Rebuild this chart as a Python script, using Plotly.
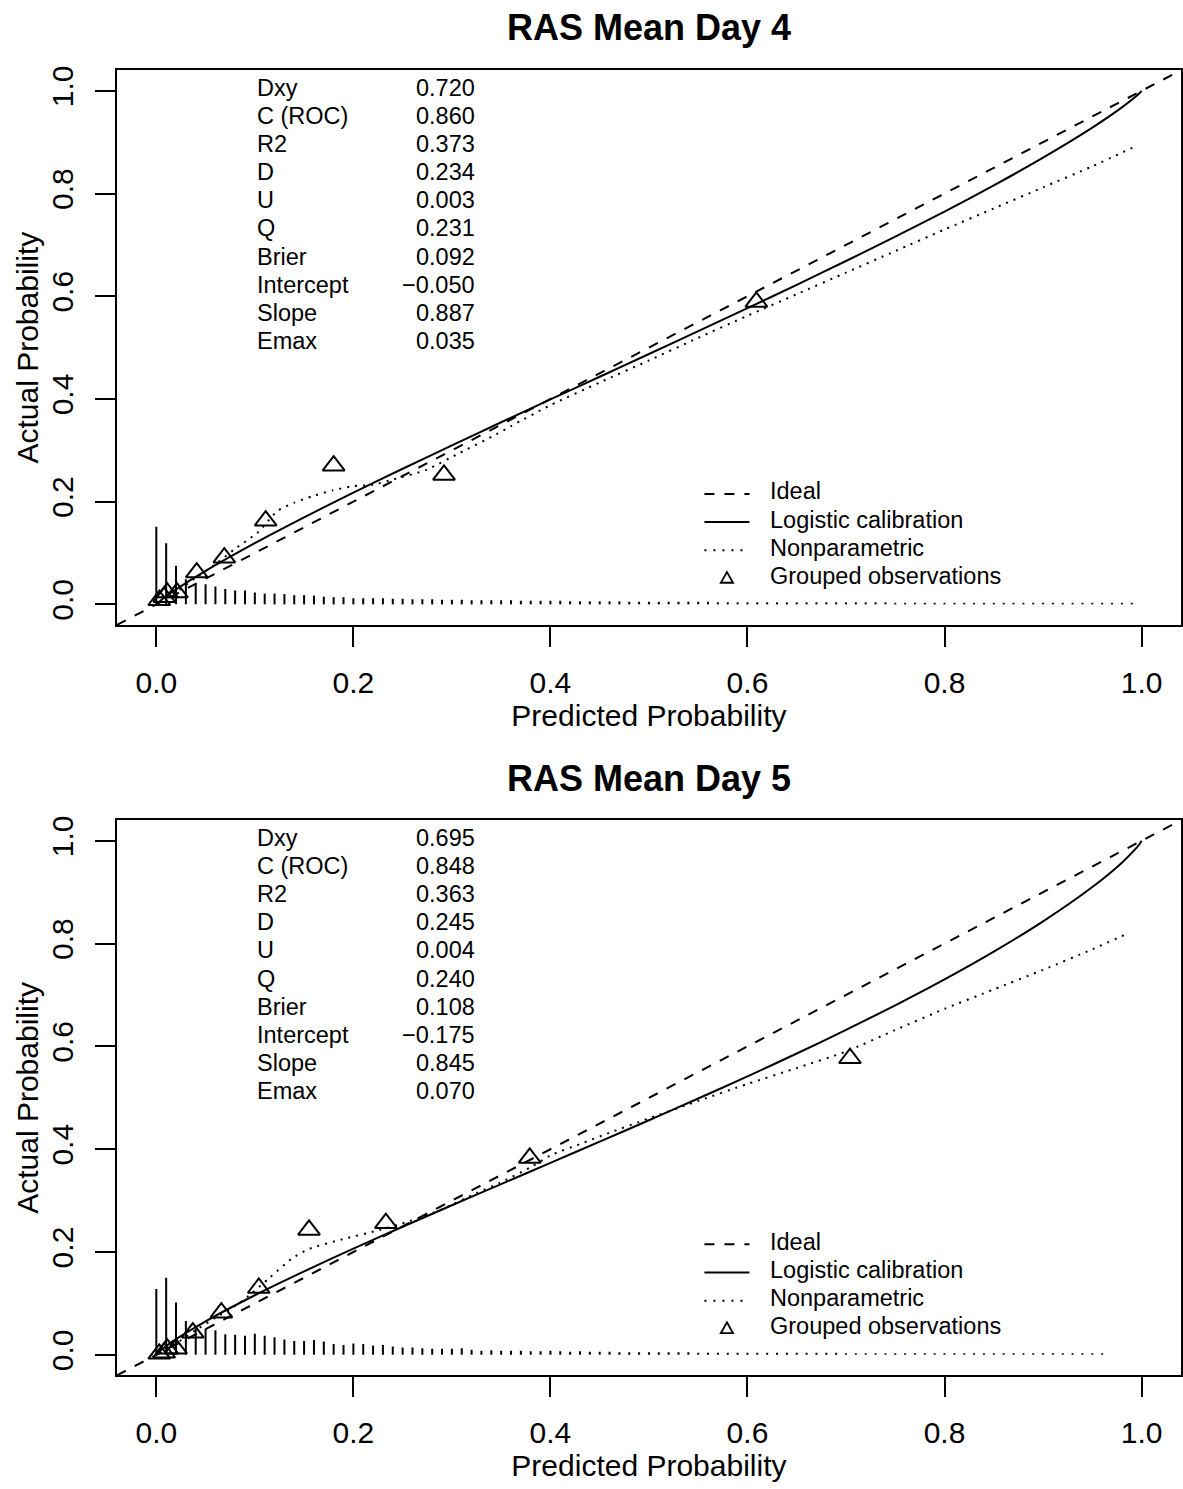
import plotly.graph_objects as go

FONT = "Liberation Sans, Arial, Helvetica, sans-serif"

# ---------------- data ----------------
titles = ["RAS Mean Day 4", "RAS Mean Day 5"]
x_title = "Predicted Probability"
y_title = "Actual Probability"

stat_labels = ["Dxy", "C (ROC)", "R2", "D", "U", "Q", "Brier", "Intercept", "Slope", "Emax"]
stat_values_d4 = ["0.720", "0.860", "0.373", "0.234", "0.003", "0.231", "0.092", "\u22120.050", "0.887", "0.035"]
stat_values_d5 = ["0.695", "0.848", "0.363", "0.245", "0.004", "0.240", "0.108", "\u22120.175", "0.845", "0.070"]

legend_labels = ["Ideal", "Logistic calibration", "Nonparametric", "Grouped observations"]

ideal_xy = [-0.04, 1.04]

# logistic calibration curves
logit_x_d4 = [0.002, 0.005, 0.01, 0.02, 0.05, 0.1, 0.15, 0.2, 0.25, 0.3, 0.35, 0.4, 0.45, 0.5,
              0.55, 0.6, 0.65, 0.7, 0.75, 0.8, 0.85, 0.9, 0.95, 0.98, 0.995, 0.998, 1.0]
logit_y_d4 = [0.0038, 0.0086, 0.0159, 0.0293, 0.0653, 0.1193, 0.1695, 0.2178, 0.2641, 0.3096,
              0.3546, 0.3990, 0.4432, 0.4875, 0.5320, 0.5769, 0.6222, 0.6686, 0.7160, 0.7648,
              0.8159, 0.8698, 0.9283, 0.9677, 0.9905, 0.9958, 1.0]
logit_x_d5 = logit_x_d4
logit_y_d5 = [0.0044, 0.0095, 0.0170, 0.0304, 0.0652, 0.1159, 0.1623, 0.2066, 0.2491, 0.2910,
              0.3322, 0.3735, 0.4147, 0.4564, 0.4987, 0.5417, 0.5862, 0.6320, 0.6799, 0.7303,
              0.7843, 0.8432, 0.9100, 0.9575, 0.9866, 0.9938, 1.0]

# nonparametric (loess) curves
np_x_d4 = [0.003, 0.01, 0.02, 0.04, 0.06, 0.079, 0.103, 0.123, 0.140, 0.159, 0.179, 0.199, 0.220,
           0.240, 0.274, 0.308, 0.341, 0.36, 0.40, 0.45, 0.50, 0.55, 0.60, 0.65, 0.70, 0.75,
           0.80, 0.85, 0.90, 0.95, 0.995]
np_y_d4 = [0.004, 0.013, 0.024, 0.052, 0.078, 0.107, 0.140, 0.182, 0.198, 0.211, 0.222, 0.230, 0.233,
           0.243, 0.262, 0.295, 0.327, 0.347, 0.388, 0.432, 0.475, 0.519, 0.562, 0.604, 0.646, 0.688,
           0.730, 0.771, 0.812, 0.853, 0.893]
np_x_d5 = [0.003, 0.01, 0.02, 0.04, 0.06, 0.08, 0.094, 0.115, 0.138, 0.155, 0.189, 0.223, 0.257,
           0.290, 0.325, 0.348, 0.38, 0.40, 0.43, 0.46, 0.50, 0.55, 0.60, 0.65, 0.70, 0.75, 0.80,
           0.85, 0.90, 0.95, 0.985]
np_y_d5 = [0.003, 0.012, 0.022, 0.048, 0.072, 0.095, 0.115, 0.150, 0.188, 0.206, 0.225, 0.241, 0.260,
           0.283, 0.315, 0.334, 0.365, 0.388, 0.410, 0.432, 0.460, 0.494, 0.527, 0.558, 0.590, 0.632,
           0.673, 0.711, 0.749, 0.789, 0.819]

# grouped observations
grp_x_d4 = [0.003, 0.008, 0.011, 0.021, 0.041, 0.069, 0.111, 0.180, 0.292, 0.609]
grp_y_d4 = [0.008, 0.014, 0.023, 0.023, 0.062, 0.091, 0.163, 0.270, 0.252, 0.589]
grp_x_d5 = [0.003, 0.008, 0.011, 0.020, 0.037, 0.066, 0.104, 0.155, 0.233, 0.379, 0.704]
grp_y_d5 = [0.002, 0.004, 0.012, 0.012, 0.043, 0.082, 0.130, 0.243, 0.256, 0.383, 0.577]

# spike histogram of predicted probabilities (bin positions and heights)
rug_x = [0.00, 0.01, 0.02, 0.03, 0.04, 0.05, 0.06, 0.07, 0.08, 0.09,
         0.10, 0.11, 0.12, 0.13, 0.14, 0.15, 0.16, 0.17, 0.18, 0.19,
         0.20, 0.21, 0.22, 0.23, 0.24, 0.25, 0.26, 0.27, 0.28, 0.29,
         0.30, 0.31, 0.32, 0.33, 0.34, 0.35, 0.36, 0.37, 0.38, 0.39,
         0.40, 0.41, 0.42, 0.43, 0.44, 0.45, 0.46, 0.47, 0.48, 0.49,
         0.50, 0.51, 0.52, 0.53, 0.54, 0.55, 0.56, 0.57, 0.58, 0.59,
         0.60, 0.61, 0.62, 0.63, 0.64, 0.65, 0.66, 0.67, 0.68, 0.69,
         0.70, 0.71, 0.72, 0.73, 0.74, 0.75, 0.76, 0.77, 0.78, 0.79,
         0.80, 0.81, 0.82, 0.83, 0.84, 0.85, 0.86, 0.87, 0.88, 0.89,
         0.90, 0.91, 0.92, 0.93, 0.94, 0.95, 0.96, 0.97, 0.98, 0.99]
rug_h_d4 = [0.151, 0.119, 0.075, 0.049, 0.039, 0.039, 0.035, 0.030, 0.027, 0.027,
            0.023, 0.021, 0.021, 0.020, 0.018, 0.018, 0.017, 0.015, 0.014, 0.014,
            0.012, 0.012, 0.012, 0.012, 0.011, 0.011, 0.010, 0.010, 0.010, 0.009,
            0.009, 0.009, 0.008, 0.008, 0.008, 0.008, 0.008, 0.007, 0.007, 0.007,
            0.007, 0.007, 0.006, 0.006, 0.006, 0.006, 0.006, 0.006, 0.005, 0.005,
            0.005, 0.005, 0.005, 0.005, 0.005, 0.005, 0.005, 0.004, 0.004, 0.004,
            0.004, 0.004, 0.004, 0.004, 0.004, 0.004, 0.004, 0.004, 0.004, 0.004,
            0.004, 0.004, 0.004, 0.004, 0.004, 0.003, 0.003, 0.003, 0.003, 0.003,
            0.003, 0.003, 0.003, 0.003, 0.003, 0.003, 0.003, 0.003, 0.003, 0.003,
            0.003, 0.003, 0.003, 0.003, 0.003, 0.003, 0.003, 0.003, 0.003, 0.003]
rug_h_d5 = [0.128, 0.150, 0.102, 0.066, 0.050, 0.050, 0.048, 0.040, 0.039, 0.037,
            0.041, 0.037, 0.034, 0.030, 0.027, 0.027, 0.029, 0.026, 0.021, 0.019,
            0.022, 0.021, 0.018, 0.019, 0.016, 0.014, 0.014, 0.013, 0.012, 0.012,
            0.012, 0.013, 0.010, 0.008, 0.009, 0.008, 0.008, 0.008, 0.007, 0.007,
            0.008, 0.007, 0.006, 0.007, 0.006, 0.006, 0.006, 0.005, 0.005, 0.005,
            0.005, 0.005, 0.005, 0.005, 0.005, 0.004, 0.004, 0.004, 0.004, 0.004,
            0.004, 0.004, 0.004, 0.004, 0.004, 0.004, 0.004, 0.004, 0.004, 0.004,
            0.003, 0.003, 0.003, 0.003, 0.003, 0.003, 0.003, 0.003, 0.003, 0.003,
            0.003, 0.003, 0.003, 0.003, 0.003, 0.003, 0.003, 0.003, 0.003, 0.003,
            0.003, 0.003, 0.003, 0.003, 0.003, 0.003, 0.003]

tick_vals = [0.0, 0.2, 0.4, 0.6, 0.8, 1.0]
tick_text = ["0.0", "0.2", "0.4", "0.6", "0.8", "1.0"]

# ---------------- layout constants ----------------
W, H = 1183, 1489
X_DOM = [117 / W, 1182 / W]
Y_DOMS = [[1 - 622 / H, 1 - 65.5 / H], [1 - 1375 / H, 1 - 818 / H]]
TITLE_Y = [1 - 23 / H, 1 - 776 / H]
YTITLE_X = 28 / W
AX_RANGE = [-0.04, 1.04]

STAT_X_LABEL = 0.1005
STAT_X_VALUE = 0.325
STAT_Y0 = 1.006
ROW_STEP = 0.0548
LEG_X0, LEG_X1, LEG_TX = 0.5563, 0.6020, 0.6213
LEG_Y0 = 0.220

BLACK = "black"
fig = go.Figure()
annotations = []
shapes = []

panels = [
    (logit_x_d4, logit_y_d4, np_x_d4, np_y_d4, grp_x_d4, grp_y_d4, rug_x, rug_h_d4, stat_values_d4),
    (logit_x_d5, logit_y_d5, np_x_d5, np_y_d5, grp_x_d5, grp_y_d5, rug_x[:len(rug_h_d5)], rug_h_d5, stat_values_d5),
]

for i, (lx, ly, nx, ny, gx, gy, rx, rh, svals) in enumerate(panels):
    xa = "x" if i == 0 else "x2"
    ya = "y" if i == 0 else "y2"
    # spikes
    sx, sy = [], []
    for xv, hv in zip(rx, rh):
        sx += [xv, xv, None]
        sy += [0, hv, None]
    fig.add_trace(go.Scatter(x=sx, y=sy, mode="lines", line=dict(color=BLACK, width=2),
                             xaxis=xa, yaxis=ya, showlegend=False, hoverinfo="skip"))
    # ideal
    fig.add_trace(go.Scatter(x=ideal_xy, y=ideal_xy, mode="lines", name=legend_labels[0],
                             line=dict(color=BLACK, width=2, dash="10px,10px"),
                             xaxis=xa, yaxis=ya, showlegend=False))
    # nonparametric
    fig.add_trace(go.Scatter(x=nx, y=ny, mode="lines", name=legend_labels[2],
                             line=dict(color=BLACK, width=2, dash="2px,6px", shape="spline", smoothing=0.6),
                             xaxis=xa, yaxis=ya, showlegend=False))
    # logistic
    fig.add_trace(go.Scatter(x=lx, y=ly, mode="lines", name=legend_labels[1],
                             line=dict(color=BLACK, width=2, shape="spline", smoothing=0.6),
                             xaxis=xa, yaxis=ya, showlegend=False))
    # grouped observations
    fig.add_trace(go.Scatter(x=gx, y=gy, mode="markers", name=legend_labels[3],
                             marker=dict(symbol="triangle-up-open", size=19, color=BLACK,
                                         line=dict(color=BLACK, width=2)),
                             xaxis=xa, yaxis=ya, showlegend=False))

    # title
    annotations.append(dict(text="<b>%s</b>" % titles[i], xref="paper", yref="paper",
                            x=(X_DOM[0] + X_DOM[1]) / 2, y=TITLE_Y[i], xanchor="center", yanchor="middle",
                            showarrow=False, font=dict(family=FONT, size=36, color=BLACK)))
    # y axis title
    annotations.append(dict(text=y_title, xref="paper", yref="paper", textangle=-90,
                            x=YTITLE_X, y=(Y_DOMS[i][0] + Y_DOMS[i][1]) / 2,
                            xanchor="center", yanchor="middle", showarrow=False,
                            font=dict(family=FONT, size=30, color=BLACK)))
    # stats block
    for k, (lab, val) in enumerate(zip(stat_labels, svals)):
        yy = STAT_Y0 - k * ROW_STEP
        annotations.append(dict(text=lab, xref=xa, yref=ya, x=STAT_X_LABEL, y=yy, xanchor="left",
                                yanchor="middle", showarrow=False,
                                font=dict(family=FONT, size=23.5, color=BLACK)))
        annotations.append(dict(text=val, xref=xa, yref=ya, x=STAT_X_VALUE, y=yy, xanchor="right",
                                yanchor="middle", showarrow=False,
                                font=dict(family=FONT, size=23.5, color=BLACK)))
    # legend (drawn like R's legend())
    for k, lab in enumerate(legend_labels):
        yy = LEG_Y0 - k * ROW_STEP
        annotations.append(dict(text=lab, xref=xa, yref=ya, x=LEG_TX, y=yy, xanchor="left",
                                yanchor="middle", showarrow=False,
                                font=dict(family=FONT, size=23.5, color=BLACK)))
        if k < 3:
            dash = ["10px,10px", "solid", "2px,7px"][k]
            shapes.append(dict(type="line", xref=xa, yref=ya, x0=LEG_X0, x1=LEG_X1, y0=yy - 0.005, y1=yy - 0.005,
                               line=dict(color=BLACK, width=2, dash=dash)))
        else:
            cx = (LEG_X0 + LEG_X1) / 2
            hw, up, dn = 0.0062, 0.0075, 0.0135
            path = "M %f,%f L %f,%f L %f,%f Z" % (cx - hw, yy - dn, cx + hw, yy - dn, cx, yy + up)
            shapes.append(dict(type="path", xref=xa, yref=ya, path=path,
                               line=dict(color=BLACK, width=1.8)))

def xaxis_cfg(dom_anchor):
    return dict(domain=X_DOM, range=AX_RANGE, tickvals=tick_vals, ticktext=tick_text,
                ticks="outside", ticklen=20, tickwidth=2, tickcolor=BLACK,
                showline=True, linewidth=2, linecolor=BLACK, mirror=True,
                showgrid=False, zeroline=False, anchor=dom_anchor,
                tickfont=dict(family=FONT, size=30, color=BLACK), ticklabelstandoff=10,
                title=dict(text=x_title, font=dict(family=FONT, size=30, color=BLACK),
                           standoff=3))

def yaxis_cfg(dom, dom_anchor):
    return dict(domain=dom, range=AX_RANGE, tickvals=tick_vals, ticktext=tick_text,
                ticks="outside", ticklen=20, tickwidth=2, tickcolor=BLACK,
                showline=True, linewidth=2, linecolor=BLACK, mirror=True,
                showgrid=False, zeroline=False, anchor=dom_anchor, tickangle=-90,
                tickfont=dict(family=FONT, size=30, color=BLACK), ticklabelstandoff=10)

fig.update_layout(
    width=W, height=H, margin=dict(l=0, r=0, t=0, b=0),
    paper_bgcolor="white", plot_bgcolor="white",
    font=dict(family=FONT, color=BLACK),
    showlegend=False,
    xaxis=xaxis_cfg("y"), yaxis=yaxis_cfg(Y_DOMS[0], "x"),
    xaxis2=xaxis_cfg("y2"), yaxis2=yaxis_cfg(Y_DOMS[1], "x2"),
    annotations=annotations, shapes=shapes,
)

fig.write_html("out.html")
